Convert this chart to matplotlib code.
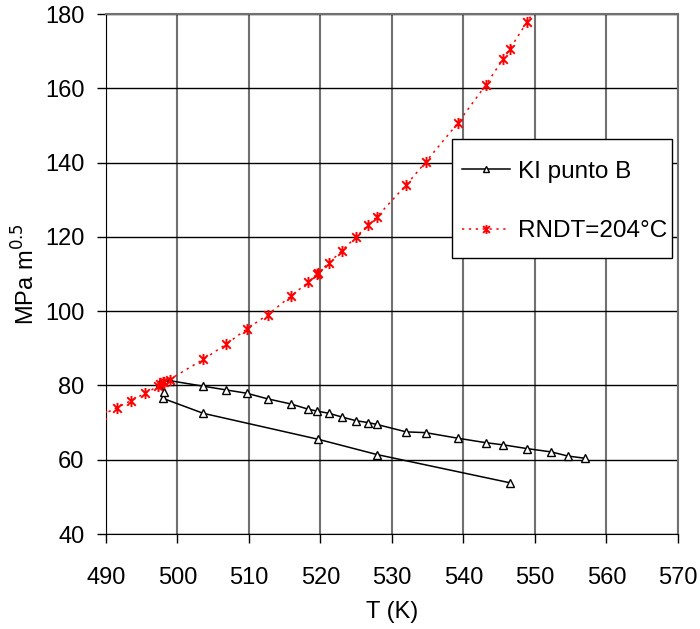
import matplotlib
matplotlib.use('Agg')
import matplotlib.pyplot as plt
from matplotlib.path import Path
from matplotlib.patches import Rectangle

plt.rcParams['font.family'] = ['Liberation Sans', 'DejaVu Sans']

# KI punto B: lower branch (cooling) then upper branch
ki_T = [546.5, 527.9, 519.7, 503.6, 498.0, 498.1, 497.5, 498.9, 503.6, 506.8,
        509.7, 512.6, 515.9, 518.3, 519.5, 521.2, 523.0, 525.0, 526.7, 527.9,
        532.0, 534.7, 539.2, 543.1, 545.6, 548.9, 552.3, 554.6, 557.0]
ki_K = [53.8, 61.4, 65.5, 72.5, 76.5, 78.3, 80.7, 81.3, 79.8, 78.8,
        77.9, 76.4, 75.0, 73.6, 73.1, 72.5, 71.5, 70.5, 70.0, 69.5,
        67.5, 67.3, 65.8, 64.6, 64.0, 63.0, 62.1, 61.0, 60.4]

# reference curve RNDT = 204 C
rn_T = [489.5, 491.5, 493.5, 495.5, 497.3, 497.5, 498.0, 498.1, 498.9, 503.6,
        506.8, 509.7, 512.6, 515.9, 518.3, 519.5, 519.7, 521.2, 523.0, 525.0,
        526.7, 527.9, 532.0, 534.7, 539.2, 543.1, 545.6, 546.5, 548.9, 552.3]
rn_K = [72.1, 74.0, 75.9, 77.9, 79.8, 80.4, 80.9, 81.0, 81.6, 87.0,
        91.1, 95.2, 99.0, 104.1, 107.8, 110.0, 110.4, 113.0, 116.3, 120.0,
        123.3, 125.4, 134.0, 140.1, 150.6, 160.8, 168.0, 170.6, 177.9, 187.5]

star = Path([(-1, -1), (1, 1), (-1, 1), (1, -1), (0, -1.3), (0, 1.3)],
            [Path.MOVETO, Path.LINETO, Path.MOVETO, Path.LINETO, Path.MOVETO, Path.LINETO])

fig = plt.figure(figsize=(7, 6.29), dpi=100)
ax = fig.add_axes([0.1514, 0.151, 0.817, 0.8267])

ax.plot(ki_T, ki_K, color='black', lw=1.1, marker='^', markersize=6,
        markerfacecolor='white', markeredgecolor='black', markeredgewidth=1.0,
        label='KI punto B', zorder=3)
ax.plot(rn_T, rn_K, color='red', lw=1.1, linestyle=(0, (1.5, 3)), marker=star,
        markersize=8, markeredgecolor='red', markeredgewidth=1.4,
        label='RNDT=204°C', zorder=4)

ax.set_xlim(490, 570)
ax.set_ylim(40, 180)
ax.set_xticks(range(490, 571, 10))
ax.set_yticks(range(40, 181, 20))
ax.grid(axis='y', color='black', lw=1.0)
ax.grid(axis='x', color='#707070', lw=1.5)
ax.set_axisbelow(True)
ax.tick_params(direction='out', length=6.5, width=1, labelsize=17)
ax.tick_params(axis='x', pad=17)
ax.tick_params(axis='y', pad=9)

for s in ['left', 'bottom']:
    ax.spines[s].set_color('black')
for s in ['top', 'right']:
    ax.spines[s].set_color('#707070')
    ax.spines[s].set_linewidth(1.5)

ax.set_xlabel('T (K)', fontsize=17, labelpad=9)
ax.set_ylabel('MPa m$^{0.5}$', fontsize=17, labelpad=4)

# legend box drawn separately so padding can differ horizontally/vertically
box = Rectangle((0.605, 0.531), 0.385, 0.229, transform=ax.transAxes,
                facecolor='white', edgecolor='black', lw=1.0, zorder=5)
ax.add_patch(box)
leg = ax.legend(loc='upper left', bbox_to_anchor=(0.622, 0.718), fontsize=17.5,
                frameon=False, handlelength=2.0, handletextpad=0.3,
                labelspacing=1.55, borderpad=0, borderaxespad=0, markerscale=0.8)
leg.set_zorder(6)

fig.savefig('out.png', dpi=100)
